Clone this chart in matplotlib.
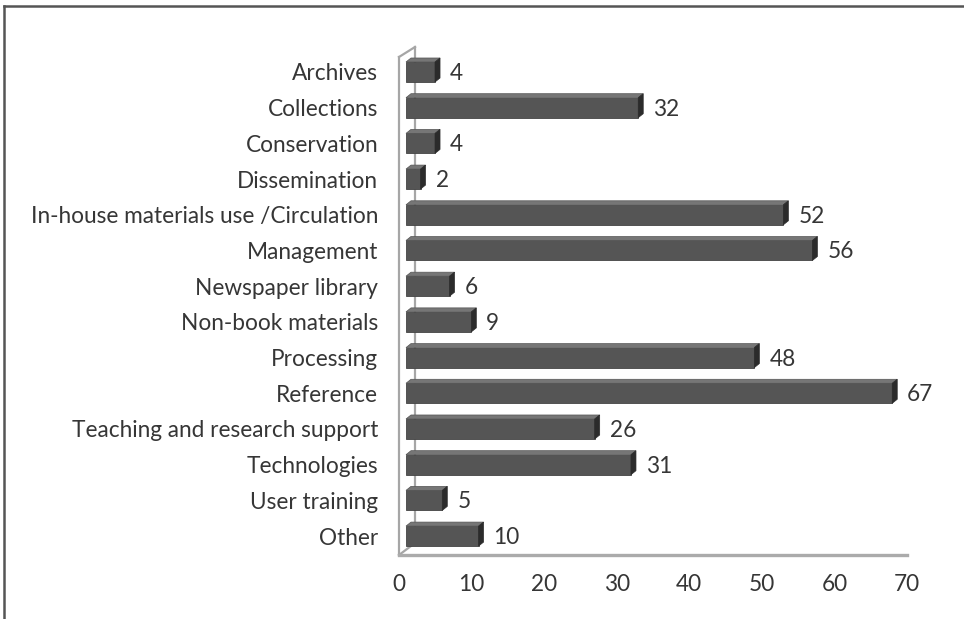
import matplotlib
matplotlib.use("Agg")
import matplotlib.pyplot as plt
from matplotlib.patches import Polygon
from matplotlib.lines import Line2D

categories = [
    "Archives", "Collections", "Conservation", "Dissemination",
    "In-house materials use /Circulation", "Management", "Newspaper library",
    "Non-book materials", "Processing", "Reference",
    "Teaching and research support", "Technologies", "User training", "Other",
]
counts = [4, 32, 4, 2, 52, 56, 6, 9, 48, 67, 26, 31, 5, 10]
xticks = [0, 10, 20, 30, 40, 50, 60, 70]

W, H = 964, 619
FRONT = "#555555"
TOP = "#767676"
SIDE = "#2b2b2b"
TEXT = "#363636"
WALL = "#a6a6a6"
FS = 16.3

plt.rcParams["font.family"] = ["Lato", "DejaVu Sans"]

fig = plt.figure(figsize=(W / 100, H / 100), dpi=100)

# plot area in pixels
left_px, right_px = 399, 907
top_px, bottom_px = 47, 555
ax = fig.add_axes([left_px / W, 1 - bottom_px / H,
                   (right_px - left_px) / W, (bottom_px - top_px) / H])

n = len(categories)
y_top, y_bot = -0.70, n - 1 + 0.53
ax.set_xlim(0, 70)
ax.set_ylim(y_bot, y_top)

# pixel -> data unit conversions
px_x = (right_px - left_px) / 70.0
px_y = (bottom_px - top_px) / (y_bot - y_top)

shift = 7 / px_x          # bars sit a bit behind the front plane
bar_h = 20 / px_y
dx, dy = 5 / px_x, 4 / px_y

ypos = list(range(n))
ax.barh(ypos, counts, left=shift, height=bar_h, color=FRONT,
        edgecolor="#444444", linewidth=0.6, zorder=3)

for y, v in zip(ypos, counts):
    x0, x1 = shift, shift + v
    yt, yb = y - bar_h / 2, y + bar_h / 2
    ax.add_patch(Polygon([(x0, yt), (x1, yt), (x1 + dx, yt - dy), (x0 + dx, yt - dy)],
                         closed=True, facecolor=TOP, edgecolor="#555555",
                         linewidth=0.5, zorder=3))
    ax.add_patch(Polygon([(x1, yt), (x1 + dx, yt - dy), (x1 + dx, yb - dy), (x1, yb)],
                         closed=True, facecolor=SIDE, edgecolor=SIDE,
                         linewidth=0.5, zorder=3))
    ax.text(x1 + 15 / px_x, y + 1.5 / px_y, str(v), va="center", ha="left",
            fontsize=FS, color=TEXT, zorder=4)

# back wall and floor edges
wx, wy = 16 / px_x, 12 / px_y
front_top = y_top + 10 / px_y
wall_kw = dict(color=WALL, linewidth=1.6, clip_on=False, zorder=1)
ax.plot([0, 0], [y_bot, front_top], **wall_kw)
ax.plot([0, wx], [front_top, y_top], **wall_kw)
ax.plot([wx, wx], [y_top, y_bot - wy], **wall_kw)
ax.plot([0, wx], [y_bot, y_bot - wy], **wall_kw)
ax.plot([0, 70], [y_bot, y_bot], color="#ababab", linewidth=2.4,
        clip_on=False, zorder=2)

ax.set_yticks(ypos)
ax.set_yticklabels(categories)
ax.set_xticks(xticks)
ax.set_xticklabels([str(t) for t in xticks])
ax.tick_params(axis="both", length=0, labelsize=FS, labelcolor=TEXT)
ax.tick_params(axis="y", pad=15)
ax.tick_params(axis="x", pad=14)
for s in ax.spines.values():
    s.set_visible(False)
ax.patch.set_alpha(0)

# frame edges of the figure
fig.add_artist(Line2D([4 / W, 4 / W], [0, 1 - 6 / H], color="#555555",
                      linewidth=1.8, transform=fig.transFigure))
fig.add_artist(Line2D([4 / W, 1], [1 - 6 / H, 1 - 6 / H], color="#555555",
                      linewidth=1.8, transform=fig.transFigure))

fig.savefig("out.png", dpi=100)
